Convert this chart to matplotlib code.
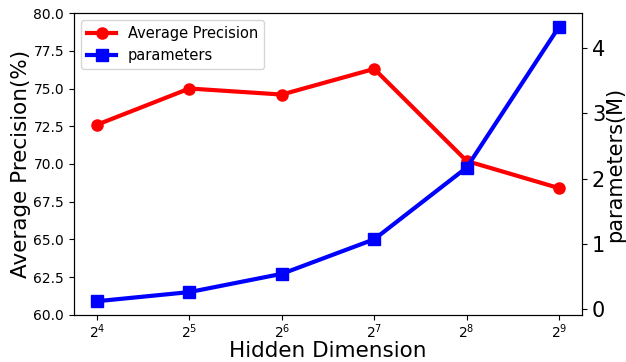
import matplotlib
matplotlib.use("Agg")
import matplotlib.pyplot as plt
import numpy as np

# data
dims = ["$2^4$", "$2^5$", "$2^6$", "$2^7$", "$2^8$", "$2^9$"]
avg_precision = [72.6, 75.0, 74.6, 76.3, 70.2, 68.4]
params_m = [0.12, 0.26, 0.54, 1.07, 2.17, 4.33]

x = np.arange(len(dims))

fig, ax1 = plt.subplots(figsize=(6.26, 3.62), dpi=100)
fig.subplots_adjust(left=0.118, right=0.93, bottom=0.13, top=0.964)

l1, = ax1.plot(x, avg_precision, color="red", marker="o", linewidth=3,
               markersize=8, label="Average Precision")
ax1.set_ylim(60, 80)
ax1.set_ylabel("Average Precision(%)", fontsize=15.5, labelpad=2)
ax1.set_xlabel("Hidden Dimension", fontsize=15.5, labelpad=0)
ax1.set_xticks(x)
ax1.set_xticklabels(dims, fontsize=10)
ax1.tick_params(axis="y", labelsize=10)
ax1.tick_params(axis="x", pad=2)

ax2 = ax1.twinx()
l2, = ax2.plot(x, params_m, color="blue", marker="s", linewidth=3,
               markersize=8.5, label="parameters")
ax2.set_ylabel("parameters(M)", fontsize=15, labelpad=0)
ax2.tick_params(axis="y", labelsize=15)

ax1.legend(handles=[l1, l2], loc="upper left", fontsize=10.5)

fig.savefig("out.png", dpi=100)
